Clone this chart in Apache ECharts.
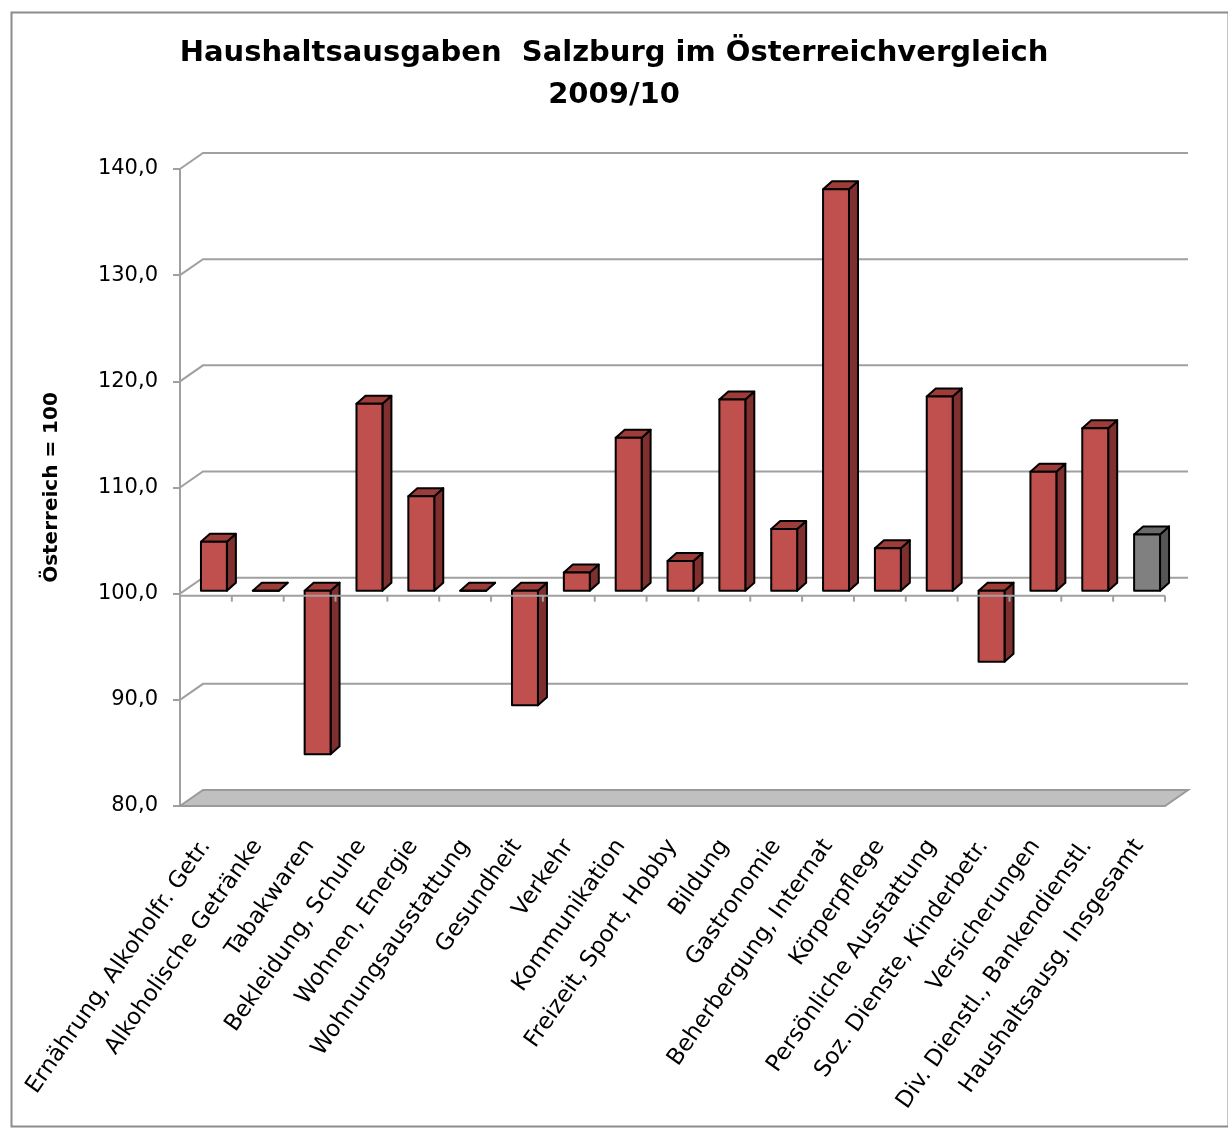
<!DOCTYPE html>
<html>
<head>
<meta charset="utf-8">
<script src="https://cdn.jsdelivr.net/npm/echarts@6/dist/echarts.min.js"></script>
<style>
  html, body { margin: 0; padding: 0; background: #fff; }
  #chart { width: 1228px; height: 1133px; }
</style>
</head>
<body>
<div id="chart"></div>
<script>
// Kategorien
var categories = [
  'Ernährung, Alkoholfr. Getr.', 'Alkoholische Getränke', 'Tabakwaren',
  'Bekleidung, Schuhe', 'Wohnen, Energie', 'Wohnungsausstattung', 'Gesundheit',
  'Verkehr', 'Kommunikation', 'Freizeit, Sport, Hobby', 'Bildung', 'Gastronomie',
  'Beherbergung, Internat', 'Körperpflege', 'Persönliche Ausstattung',
  'Soz. Dienste, Kinderbetr.', 'Versicherungen', 'Div. Dienstl., Bankendienstl.',
  'Haushaltsausg. Insgesamt'
];
// Österreich = 100
var values = [104.6, 100.0, 84.6, 117.6, 108.9, 100.0, 89.2, 101.7, 114.4, 102.8,
  118.0, 105.8, 137.8, 104.0, 118.3, 93.3, 111.2, 115.3, 105.3];
var yTicks = [90, 100, 110, 120, 130, 140];
var baseline = 100;

var FONT = 'DejaVu Sans';
var DX = 23, DY = -16;       // Tiefe Rückwand
var BDX = 9, BDY = -8;       // Tiefe Balken
var lineColor = '#a0a0a0';

var chart = echarts.init(document.getElementById('chart'));

function backLines(params, api) {
  var cs = params.coordSys;
  var y = api.coord([0, api.value(0)])[1];
  var x0 = cs.x;
  return {
    type: 'polyline',
    shape: { points: [[x0, y], [x0 + DX, y + DY], [x0 + cs.width + DX, y + DY]] },
    style: { stroke: lineColor, lineWidth: 2, fill: null }
  };
}

function floor(params, api) {
  var cs = params.coordSys;
  var y = api.coord([0, api.value(0)])[1];
  var x0 = cs.x, x1 = cs.x + cs.width;
  return {
    type: 'polygon',
    shape: { points: [[x0, y], [x1, y], [x1 + DX, y + DY], [x0 + DX, y + DY]] },
    style: { fill: '#c0c0c0', stroke: '#9a9a9a', lineWidth: 2 }
  };
}

function bar3d(params, api) {
  var i = api.value(0);
  var v = api.value(1);
  var base = api.coord([i, baseline]);
  var top = api.coord([i, v]);
  var bw = api.size([1, 0])[0] * 0.5;
  var cx = base[0] + 8;
  var y0 = base[1] - 3, y1 = top[1] - 3;
  var yt = Math.min(y0, y1), yb = Math.max(y0, y1);
  var l = cx - bw / 2, r = cx + bw / 2;
  var grey = i === categories.length - 1;
  var cFront = grey ? '#808080' : '#c0504d';
  var cTop = grey ? '#6a6a6a' : '#9c3d3a';
  var cSide = grey ? '#555555' : '#7f2f2d';
  var stroke = { stroke: '#000', lineWidth: 2, lineJoin: 'round' };
  return {
    type: 'group',
    children: [
      { type: 'polygon', shape: { points: [[r, yt], [r + BDX, yt + BDY], [r + BDX, yb + BDY], [r, yb]] },
        style: Object.assign({ fill: cSide }, stroke) },
      { type: 'polygon', shape: { points: [[l, yt], [r, yt], [r + BDX, yt + BDY], [l + BDX, yt + BDY]] },
        style: Object.assign({ fill: cTop }, stroke) },
      { type: 'rect', shape: { x: l, y: yt, width: r - l, height: yb - yt },
        style: Object.assign({ fill: cFront }, stroke) }
    ]
  };
}

function baseAxis(params, api) {
  var cs = params.coordSys;
  var y = api.coord([0, baseline])[1] + 2;
  var step = cs.width / categories.length;
  var children = [{
    type: 'line', shape: { x1: cs.x, y1: y, x2: cs.x + cs.width, y2: y },
    style: { stroke: lineColor, lineWidth: 2 }
  }];
  for (var k = 1; k <= categories.length; k++) {
    var x = cs.x + k * step;
    children.push({ type: 'line', shape: { x1: x, y1: y, x2: x, y2: y + 6 },
      style: { stroke: lineColor, lineWidth: 2 } });
  }
  return { type: 'group', children: children };
}

var option = {
  backgroundColor: '#fff',
  animation: false,
  textStyle: { fontFamily: FONT },
  title: {
    text: 'Haushaltsausgaben  Salzburg im Österreichvergleich\n2009/10',
    left: 'center',
    top: 27,
    textStyle: { fontFamily: FONT, fontSize: 29, fontWeight: 'bold', color: '#000', lineHeight: 42 }
  },
  graphic: [{
    type: 'rect', left: 9, top: 10, z: -1,
    shape: { width: 1217, height: 1114 },
    style: { fill: null, stroke: '#8c8c8c', lineWidth: 2 }
  }],
  grid: { left: 180, right: 63, top: 169, bottom: 327 },
  xAxis: {
    type: 'category',
    data: categories,
    axisLine: { show: false },
    axisTick: { show: false },
    axisLabel: {
      interval: 0, rotate: 55, margin: 36,
      fontFamily: FONT, fontSize: 23, color: '#000'
    }
  },
  yAxis: {
    type: 'value',
    min: 80, max: 140, interval: 10,
    name: 'Österreich = 100',
    nameLocation: 'middle',
    nameRotate: 90,
    nameGap: 118,
    nameTextStyle: { fontFamily: FONT, fontSize: 20, fontWeight: 'bold', color: '#000' },
    axisLine: { show: true, lineStyle: { color: lineColor, width: 2 } },
    axisTick: { show: true, length: 7, lineStyle: { color: lineColor, width: 2 } },
    splitLine: { show: false },
    axisLabel: {
      margin: 22, fontFamily: FONT, fontSize: 21, color: '#000',
      formatter: function (v) { return v.toFixed(1).replace('.', ','); }
    }
  },
  series: [
    { type: 'custom', z: 1, silent: true, renderItem: backLines,
      data: yTicks.map(function (t) { return [t]; }), encode: { y: 0 } },
    { type: 'custom', z: 2, silent: true, renderItem: floor, data: [[80]], encode: { y: 0 } },
    { type: 'custom', z: 3, renderItem: bar3d,
      data: values.map(function (v, i) { return [i, v]; }), encode: { x: 0, y: 1 } },
    { type: 'custom', z: 4, silent: true, renderItem: baseAxis, data: [[0, baseline]], encode: { x: 0, y: 1 } }
  ]
};
chart.setOption(option);
</script>
</body>
</html>
